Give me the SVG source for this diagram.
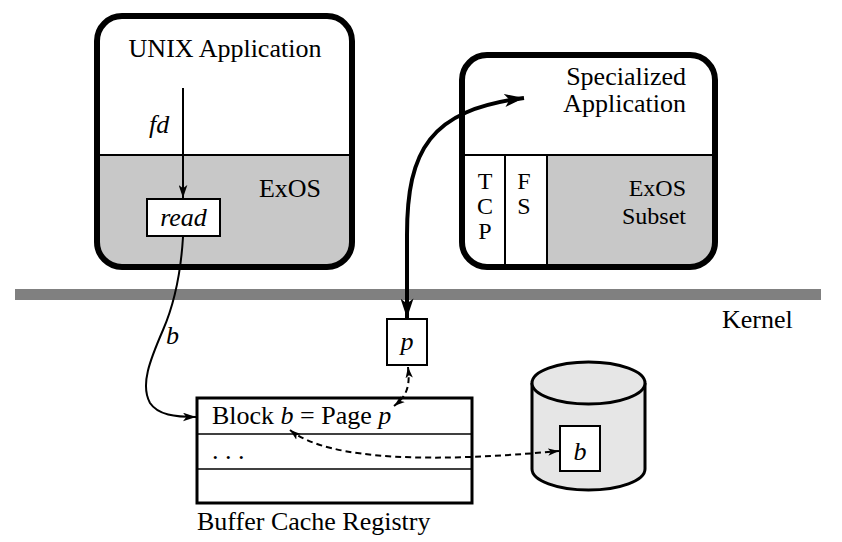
<svg xmlns="http://www.w3.org/2000/svg" width="842" height="542" viewBox="0 0 842 542">
<style>
text{font-family:"Liberation Serif","Times New Roman",serif;font-size:26px;fill:#000}
.it{font-style:italic}
.sm{font-size:24px}
.box{fill:none;stroke:#000;stroke-width:6}
.conn{fill:none;stroke:#000;stroke-width:2}
.dash{fill:none;stroke:#000;stroke-width:2;stroke-dasharray:6 4}
.gray{fill:#c8c8c8}
</style>
<defs>
<marker id="ah" viewBox="0 0 12 8" refX="12" refY="4" markerWidth="13" markerHeight="9" markerUnits="userSpaceOnUse" orient="auto-start-reverse">
<path d="M0,0 L12,4 L0,8 L3,4 Z" fill="#000"/>
</marker>
<marker id="ahs" viewBox="0 0 12 8" refX="12" refY="4" markerWidth="11" markerHeight="8" markerUnits="userSpaceOnUse" orient="auto-start-reverse">
<path d="M0,0 L12,4 L0,8 L3,4 Z" fill="#000"/>
</marker>
<marker id="ahb" viewBox="0 0 12 8" refX="12" refY="4" markerWidth="20" markerHeight="13" markerUnits="userSpaceOnUse" orient="auto-start-reverse">
<path d="M0,0 L12,4 L0,8 L3,4 Z" fill="#000"/>
</marker>
</defs>
<rect width="842" height="542" fill="#fff"/>

<g id="kernel">
<rect x="15" y="289" width="806" height="11" fill="#808080"/>
<text x="722" y="328">Kernel</text>
</g>

<g id="unix-app">
<rect x="97" y="16" width="255" height="251" rx="25" fill="#fff"/>
<path class="gray" d="M97,155 H352 V242 A25,25 0 0 1 327,267 H122 A25,25 0 0 1 97,242 Z"/>
<line x1="97" y1="155" x2="352" y2="155" stroke="#000" stroke-width="2"/>
<rect class="box" x="97" y="16" width="255" height="251" rx="25"/>
<text x="225" y="57" text-anchor="middle">UNIX Application</text>
<text x="290" y="197" text-anchor="middle">ExOS</text>
</g>

<g id="read">
<rect x="147" y="199" width="73" height="37" fill="#fff" stroke="#000" stroke-width="2"/>
<text class="it" x="183.5" y="226" text-anchor="middle">read</text>
</g>

<g id="spec-app">
<rect x="462" y="55" width="253" height="212" rx="25" fill="#fff"/>
<path class="gray" d="M547,155 H715 V242 A25,25 0 0 1 690,267 H547 Z"/>
<line x1="462" y1="155" x2="715" y2="155" stroke="#000" stroke-width="2"/>
<line x1="505" y1="155" x2="505" y2="267" stroke="#000" stroke-width="2"/>
<line x1="547" y1="155" x2="547" y2="267" stroke="#000" stroke-width="2"/>
<rect class="box" x="462" y="55" width="253" height="212" rx="25"/>
<text x="686" y="85" text-anchor="end">Specialized</text>
<text x="686" y="112" text-anchor="end">Application</text>
<text class="sm" x="686" y="196" text-anchor="end">ExOS</text>
<text class="sm" x="686" y="224" text-anchor="end">Subset</text>
<text class="sm" x="485" y="189" text-anchor="middle">T</text>
<text class="sm" x="485" y="214" text-anchor="middle">C</text>
<text class="sm" x="485" y="239" text-anchor="middle">P</text>
<text class="sm" x="524" y="189" text-anchor="middle">F</text>
<text class="sm" x="524" y="214" text-anchor="middle">S</text>
</g>

<g id="p-box">
<rect x="387" y="319" width="40" height="46" fill="#fff" stroke="#000" stroke-width="2"/>
<text class="it" x="407" y="350" text-anchor="middle">p</text>
</g>

<g id="buffer-cache">
<rect x="197" y="398" width="275" height="105" fill="#fff" stroke="#000" stroke-width="3"/>
<line x1="197" y1="434" x2="472" y2="434" stroke="#000" stroke-width="1.5"/>
<line x1="197" y1="469" x2="472" y2="469" stroke="#000" stroke-width="1.5"/>
<text x="212" y="424">Block <tspan class="it">b</tspan> = Page <tspan class="it">p</tspan></text>
<text x="212" y="459">. . .</text>
<text x="197" y="530">Buffer Cache Registry</text>
</g>

<g id="disk">
<path d="M532,383 V469 A56.5,21 0 0 0 645,469 V383" fill="#e6e6e6" stroke="#000" stroke-width="3"/>
<ellipse cx="588.5" cy="383" rx="56.5" ry="21" fill="#e6e6e6" stroke="#000" stroke-width="3"/>
<rect x="560" y="426" width="40" height="45" fill="#fff" stroke="#000" stroke-width="2"/>
<text class="it" x="580" y="460" text-anchor="middle">b</text>
</g>

<g id="connectors">
<line class="conn" x1="183" y1="88" x2="183" y2="198" marker-end="url(#ah)"/>
<text class="it" x="149" y="133">fd</text>
<path class="conn" d="M183,237 C181,270 176,300 163,330 C150,360 140,385 150,403 C158,415 175,417 196,417" marker-end="url(#ah)"/>
<text class="it" x="166" y="344">b</text>
<path d="M407,318 L407,235 C407,150 430,110 524,98" fill="none" stroke="#000" stroke-width="4" marker-start="url(#ahb)" marker-end="url(#ahb)"/>
<path class="dash" d="M408,367 C410,385 408,395 394,406" marker-start="url(#ahs)" marker-end="url(#ahs)"/>
<path class="dash" d="M290,430 C330,462 440,462 559,451" marker-start="url(#ahs)" marker-end="url(#ahs)"/>
</g>
</svg>
